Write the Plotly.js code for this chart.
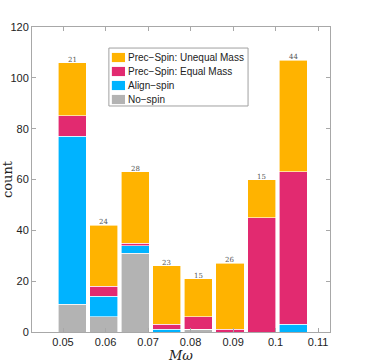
<!DOCTYPE html>
<html>
<head>
<meta charset="utf-8">
<script src="https://cdn.plot.ly/plotly-3.0.1.min.js"></script>
<style>
  html, body { margin: 0; padding: 0; background: #fff; }
  #plot { width: 367px; height: 364px; }
</style>
</head>
<body>
<div id="plot"></div>
<script>
// bin centres in M*omega, stacked counts per category (bottom -> top)
const binCenters = [0.05212, 0.05955, 0.06698, 0.07441, 0.08184, 0.08927, 0.0967, 0.10413];
const noSpin     = [11, 6, 31, 0, 1, 0, 0, 0];
const alignSpin  = [66, 8, 3, 1, 0, 0, 0, 3];
const precEqual  = [8, 4, 1, 2, 5, 1, 45, 60];
const precUnequal = [21, 24, 28, 23, 15, 26, 15, 44];

const seriesNames = ['No\u2212spin', 'Align\u2212spin', 'Prec\u2212Spin: Equal Mass', 'Prec\u2212Spin: Unequal Mass'];
const seriesColors = ['#b3b3b3', '#00b3ff', '#e22a70', '#ffb300'];
const seriesData = [noSpin, alignSpin, precEqual, precUnequal];

const traces = seriesData.map((vals, i) => ({
  type: 'bar',
  x: binCenters,
  y: vals,
  width: 0.0066,
  name: seriesNames[i],
  marker: { color: seriesColors[i], line: { color: '#ffffff', width: 0.6 } },
  hoverinfo: 'skip'
}));

// count of unequal-mass runs printed above each bar
const totals = binCenters.map((_, j) => seriesData.reduce((s, a) => s + a[j], 0));
const annotations = binCenters.map((x, j) => ({
  x, y: totals[j], text: String(precUnequal[j]),
  showarrow: false, yanchor: 'bottom', yshift: -3,
  font: { family: 'DejaVu Serif, serif', size: 7, color: '#555' }
}));

// matlab-style legend box (plotly's own legend rows are too tall)
const LEG = { x0: 0.258, x1: 0.725, y0: 0.741, y1: 0.931, row: 0.0459, top: 0.9, sw: 0.044 };
const shapes = [{
  type: 'rect', xref: 'paper', yref: 'paper',
  x0: LEG.x0, x1: LEG.x1, y0: LEG.y0, y1: LEG.y1,
  line: { color: '#a0a0a0', width: 1 }, fillcolor: '#fff'
}];
// top row is the last series (stack order reversed)
seriesNames.slice().reverse().forEach((name, k) => {
  const color = seriesColors[seriesColors.length - 1 - k];
  const yc = LEG.top - k * LEG.row;
  shapes.push({
    type: 'rect', xref: 'paper', yref: 'paper',
    x0: LEG.x0 + 0.01, x1: LEG.x0 + 0.01 + LEG.sw, y0: yc - 0.015, y1: yc + 0.015,
    line: { width: 0 }, fillcolor: color
  });
  annotations.push({
    xref: 'paper', yref: 'paper', x: LEG.x0 + 0.058, y: yc,
    xanchor: 'left', yanchor: 'middle', showarrow: false, text: name,
    font: { family: 'Liberation Sans, Arial, sans-serif', size: 10, color: '#222' }
  });
});

const axisCommon = {
  showline: true, linecolor: '#a8a8a8', linewidth: 1, mirror: 'ticks',
  ticks: 'inside', ticklen: 4, tickcolor: '#a8a8a8',
  showgrid: false, zeroline: false,
  tickfont: { family: 'Liberation Sans, Arial, sans-serif', size: 11, color: '#222' }
};

const layout = {
  width: 367, height: 364,
  margin: { l: 32, r: 37, t: 27, b: 32 },
  paper_bgcolor: '#fff', plot_bgcolor: '#fff',
  barmode: 'stack',
  showlegend: false,
  xaxis: Object.assign({}, axisCommon, {
    range: [0.0427, 0.1128],
    tickvals: [0.05, 0.06, 0.07, 0.08, 0.09, 0.1, 0.11],
    ticktext: ['0.05', '0.06', '0.07', '0.08', '0.09', '0.1', '0.11'],
    title: { text: '<i>Mω</i>', standoff: 2,
      font: { family: 'DejaVu Serif, serif', size: 13, color: '#222' } }
  }),
  yaxis: Object.assign({}, axisCommon, {
    range: [0, 120],
    tickvals: [0, 20, 40, 60, 80, 100, 120],
    title: { text: 'count', standoff: 4,
      font: { family: 'DejaVu Serif, serif', size: 13, color: '#222' } }
  }),
  shapes,
  annotations
};

Plotly.newPlot('plot', traces, layout, { displayModeBar: false, staticPlot: true });
</script>
</body>
</html>
